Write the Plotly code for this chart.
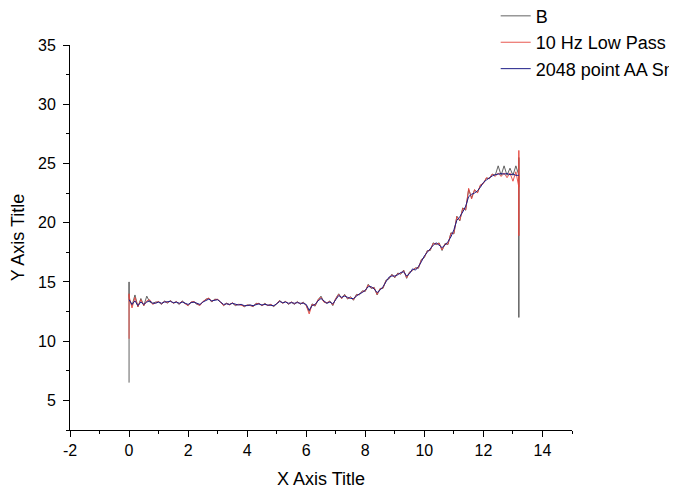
import plotly.graph_objects as go

# shared sampling grid (x, in axis units)
grid_x = [0.0, 0.1, 0.2, 0.3, 0.4, 0.5, 0.6, 0.7, 0.8, 0.9,
          1.0, 1.1, 1.2, 1.3, 1.4, 1.5, 1.6, 1.7, 1.8, 1.9,
          2.0, 2.1, 2.2, 2.3, 2.4, 2.5, 2.6, 2.7, 2.8, 2.9,
          3.0, 3.1, 3.2, 3.3, 3.4, 3.5, 3.6, 3.7, 3.8, 3.9,
          4.0, 4.1, 4.2, 4.3, 4.4, 4.5, 4.6, 4.7, 4.8, 4.9,
          5.0, 5.1, 5.2, 5.3, 5.4, 5.5, 5.6, 5.7, 5.8, 5.9,
          6.0, 6.1, 6.2, 6.3, 6.4, 6.5, 6.6, 6.7, 6.8, 6.9,
          7.0, 7.1, 7.2, 7.3, 7.4, 7.5, 7.6, 7.7, 7.8, 7.9,
          8.0, 8.1, 8.2, 8.3, 8.4, 8.5, 8.6, 8.7, 8.8, 8.9,
          9.0, 9.1, 9.2, 9.3, 9.4, 9.5, 9.6, 9.7, 9.8, 9.9,
          10.0, 10.1, 10.2, 10.3, 10.4, 10.5, 10.6, 10.7, 10.8, 10.9,
          11.0, 11.1, 11.2, 11.3, 11.4, 11.5, 11.6, 11.7, 11.8, 11.9,
          12.0, 12.1, 12.2, 12.3, 12.4, 12.5, 12.6, 12.7, 12.8, 12.9,
          13.0, 13.1, 13.2]

# Series B (raw)
b_head_x = [0.0, 0.0]
b_head_y = [6.5, 15.0]
b_y = [13.6, 13.0, 13.9, 12.9, 13.6, 13.0, 13.8, 13.3, 13.2, 13.3,
       13.3, 13.1, 13.4, 13.2, 13.45, 13.2, 13.3, 13.1, 13.4, 13.2,
       13.0, 13.3, 13.3, 13.1, 13.05, 13.3, 13.55, 13.6, 13.3, 13.55,
       13.5, 13.3, 13.0, 13.2, 13.1, 13.2, 13.0, 13.1, 13.1, 12.9,
       13.05, 13.05, 12.9, 13.2, 13.15, 13.0, 13.2, 13.0, 13.1, 12.9,
       13.2, 13.45, 13.2, 13.35, 13.1, 13.3, 13.1, 13.35, 13.1, 13.3,
       13.0, 12.5, 13.15, 12.95, 13.5, 13.8, 13.3, 13.2, 13.4, 13.0,
       13.6, 14.0, 13.6, 13.95, 13.55, 13.75, 13.45, 13.95, 13.9, 14.25,
       14.2, 14.8, 14.45, 14.55, 13.9, 14.45, 14.45, 15.15, 15.25, 15.65,
       15.35, 15.75, 15.65, 16.0, 15.3, 15.85, 15.95, 16.2, 16.15, 16.9,
       17.05, 17.65, 17.65, 18.3, 18.15, 18.3, 17.65, 18.25, 18.15, 19.15,
       19.05, 20.55, 20.15, 21.25, 21.05, 22.8, 22.1, 22.75, 22.55, 23.15,
       23.35, 23.75, 23.75, 24.1, 24.0, 24.8, 24.0, 24.8, 24.0, 24.6,
       24.0, 24.8, 24.0]
b_tail_x = [13.2, 13.2, 13.2]
b_tail_y = [25.5, 12.0, 24.0]

# Series 10 Hz Low Pass
r_head_x = [0.0, 0.0]
r_head_y = [10.2, 14.0]
r_y = [13.8, 12.8, 13.7, 12.9, 13.5, 13.0, 13.4, 13.5, 13.1, 13.25,
       13.35, 13.15, 13.35, 13.25, 13.4, 13.2, 13.35, 13.15, 13.35, 13.15,
       13.0, 13.3, 13.35, 13.15, 13.0, 13.35, 13.5, 13.65, 13.35, 13.5,
       13.55, 13.25, 13.0, 13.2, 13.05, 13.25, 13.05, 13.1, 13.05, 12.95,
       13.05, 13.0, 12.95, 13.15, 13.2, 13.0, 13.15, 13.0, 13.1, 12.95,
       13.2, 13.4, 13.2, 13.35, 13.15, 13.3, 13.15, 13.3, 13.15, 13.25,
       13.0, 12.3, 13.1, 13.0, 13.5, 13.7, 13.3, 13.25, 13.35, 13.05,
       13.6, 13.95, 13.6, 13.9, 13.6, 13.7, 13.5, 13.9, 13.95, 14.2,
       14.25, 14.75, 14.5, 14.5, 13.95, 14.4, 14.5, 15.1, 15.3, 15.6,
       15.4, 15.7, 15.7, 15.95, 15.35, 15.8, 16.0, 16.15, 16.2, 16.85,
       17.1, 17.6, 17.7, 18.25, 18.2, 18.25, 17.7, 18.2, 18.2, 19.1,
       19.1, 20.5, 20.2, 21.2, 21.1, 22.9, 22.0, 22.8, 22.5, 23.2,
       23.3, 23.8, 23.7, 24.1, 23.9, 24.2, 23.9, 24.2, 23.8, 24.2,
       23.5, 24.3, 23.0]
r_tail_x = [13.2, 13.2, 13.2]
r_tail_y = [26.1, 18.9, 24.0]

# Series 2048 point AA Smoothing
s_y = [13.5, 13.1, 13.4, 13.0, 13.3, 13.1, 13.3, 13.4, 13.2, 13.2,
       13.3, 13.2, 13.3, 13.3, 13.35, 13.25, 13.3, 13.2, 13.3, 13.2,
       13.1, 13.25, 13.3, 13.2, 13.1, 13.3, 13.45, 13.55, 13.4, 13.45,
       13.5, 13.3, 13.1, 13.15, 13.1, 13.2, 13.1, 13.05, 13.1, 13.0,
       13.0, 13.05, 13.0, 13.1, 13.15, 13.05, 13.1, 13.05, 13.05, 13.0,
       13.15, 13.35, 13.25, 13.3, 13.2, 13.25, 13.2, 13.25, 13.2, 13.2,
       13.1, 12.6, 13.0, 13.1, 13.4, 13.6, 13.4, 13.2, 13.3, 13.15,
       13.5, 13.85, 13.7, 13.8, 13.7, 13.6, 13.6, 13.8, 14.0, 14.1,
       14.3, 14.6, 14.6, 14.4, 14.1, 14.3, 14.6, 15.0, 15.4, 15.5,
       15.5, 15.6, 15.8, 15.85, 15.5, 15.7, 16.1, 16.0, 16.3, 16.7,
       17.2, 17.5, 17.8, 18.1, 18.3, 18.1, 17.9, 18.1, 18.4, 18.8,
       19.4, 20.2, 20.5, 20.9, 21.4, 22.2, 22.4, 22.5, 22.7, 23.0,
       23.4, 23.6, 23.8, 23.95, 24.05, 24.1, 24.15, 24.1, 24.15, 24.05,
       24.1, 24.0, 24.0]

series_names = ["B", "10 Hz Low Pass", "2048 point AA Smoothing"]

x_tick_vals = [-2, 0, 2, 4, 6, 8, 10, 12, 14]
x_tick_text = ["-2", "0", "2", "4", "6", "8", "10", "12", "14"]
y_tick_vals = [5, 10, 15, 20, 25, 30, 35]
y_tick_text = ["5", "10", "15", "20", "25", "30", "35"]

FONT = "Liberation Sans, Arial, sans-serif"

fig = go.Figure()
fig.add_trace(go.Scatter(x=b_head_x + grid_x + b_tail_x, y=b_head_y + b_y + b_tail_y,
                         mode="lines", name=series_names[0],
                         line=dict(color="#505050", width=0.9)))
fig.add_trace(go.Scatter(x=r_head_x + grid_x + r_tail_x, y=r_head_y + r_y + r_tail_y,
                         mode="lines", name=series_names[1],
                         line=dict(color="#e5443c", width=0.9)))
fig.add_trace(go.Scatter(x=grid_x, y=s_y,
                         mode="lines", name=series_names[2],
                         line=dict(color="#1e1e88", width=1)))

# the page body adds an 8px offset; the figure is sized so the plot area
# lands at x 70..572, y 45..430 in the browser window
fig.update_layout(
    width=669, height=481,
    paper_bgcolor="white", plot_bgcolor="white",
    margin=dict(l=62, r=105, t=37, b=59, autoexpand=False),
    font=dict(family=FONT, size=16, color="black"),
    showlegend=True,
    legend=dict(x=0.848, y=1.123, xanchor="left", yanchor="top",
                bgcolor="rgba(0,0,0,0)", font=dict(size=18, family=FONT),
                tracegroupgap=0),
    xaxis=dict(range=[-2, 15], tickmode="array", tickvals=x_tick_vals, ticktext=x_tick_text,
               showgrid=False, zeroline=False,
               showline=True, linecolor="black", linewidth=1,
               ticks="outside", ticklen=6, tickcolor="black",
               minor=dict(ticks="outside", dtick=1, tick0=-2, ticklen=3, tickcolor="black"),
               title=dict(text="X Axis Title", font=dict(size=18, family=FONT), standoff=14),
               tickfont=dict(size=16, family=FONT)),
    yaxis=dict(range=[2.5, 35], tickmode="array", tickvals=y_tick_vals, ticktext=y_tick_text,
               showgrid=False, zeroline=False,
               showline=True, linecolor="black", linewidth=1,
               ticks="outside", ticklen=6, tickcolor="black", ticklabelstandoff=4,
               minor=dict(ticks="outside", dtick=2.5, tick0=2.5, ticklen=3, tickcolor="black"),
               title=dict(text="Y Axis Title", font=dict(size=18, family=FONT), standoff=10),
               tickfont=dict(size=16, family=FONT)),
)

fig.write_html("out.html")
